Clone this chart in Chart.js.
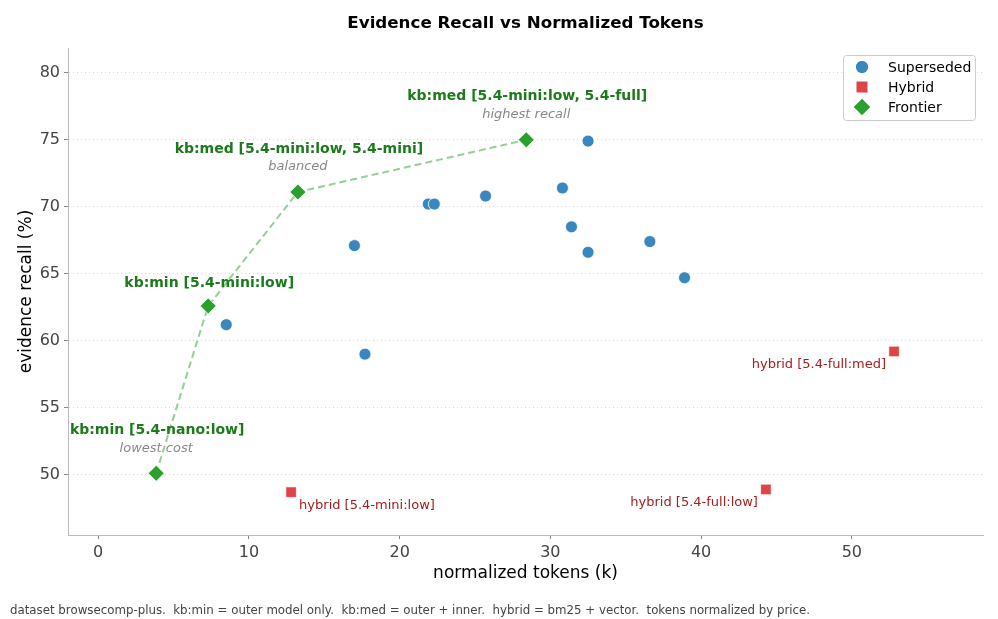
<!DOCTYPE html>
<html>
<head>
<meta charset="utf-8">
<script src="https://cdn.jsdelivr.net/npm/chart.js@4.4.1/dist/chart.umd.min.js"></script>
<style>
  html, body { margin: 0; padding: 0; background: #fff; }
  #wrap { width: 998px; height: 619px; }
</style>
</head>
<body>
<div id="wrap"><canvas id="scatter"></canvas></div>
<script>
// data
var supersededX = [8.5, 17.0, 17.7, 21.9, 22.3, 25.7, 30.8, 31.4, 32.5, 32.5, 36.6, 38.9];
var supersededY = [61.2, 67.1, 59.0, 70.2, 70.2, 70.8, 71.4, 68.5, 74.9, 66.6, 67.4, 64.7];

var hybridX = [12.8, 44.3, 52.8];
var hybridY = [48.7, 48.9, 59.2];
var hybridLabels = ['hybrid [5.4-mini:low]', 'hybrid [5.4-full:low]', 'hybrid [5.4-full:med]'];

var frontierX = [3.85, 7.3, 13.25, 28.4];
var frontierY = [50.1, 62.6, 71.1, 75.0];
var frontierLabels = ['kb:min [5.4-nano:low]', 'kb:min [5.4-mini:low]', 'kb:med [5.4-mini:low, 5.4-mini]', 'kb:med [5.4-mini:low, 5.4-full]'];
var frontierNotes = ['lowest cost', '', 'balanced', 'highest recall'];

var xTicks = [0, 10, 20, 30, 40, 50];
var yTicks = [50, 55, 60, 65, 70, 75, 80];

var footerText = 'dataset browsecomp-plus.  kb:min = outer model only.  kb:med = outer + inner.  hybrid = bm25 + vector.  tokens normalized by price.';

function toPoints(xs, ys) {
  return xs.map(function (x, i) { return { x: x, y: ys[i] }; });
}

var FONT = '"DejaVu Sans", "Liberation Sans", sans-serif';
var blue = '#3a87c0';
var red = '#dd4548';
var green = '#2ca02c';

// labels, title, legend, footer
const extras = {
  id: 'extras',
  afterDatasetsDraw: function (chart) {
    var ctx = chart.ctx;
    var xs = chart.scales.x, ys = chart.scales.y;
    ctx.save();

    // frontier labels
    ctx.textAlign = 'center';
    ctx.textBaseline = 'middle';
    frontierLabels.forEach(function (lab, i) {
      var px = xs.getPixelForValue(frontierX[i]);
      var py = ys.getPixelForValue(frontierY[i]);
      ctx.font = 'bold 14px ' + FONT;
      ctx.fillStyle = '#1b7a1b';
      if (frontierNotes[i]) {
        ctx.fillText(lab, px + 1, py - 43);
        ctx.font = 'italic 13px ' + FONT;
        ctx.fillStyle = '#888';
        ctx.fillText(frontierNotes[i], px, py - 25);
      } else {
        ctx.fillText(lab, px + 1, py - 23);
      }
    });

    // hybrid labels
    ctx.font = '13px ' + FONT;
    ctx.fillStyle = '#a51d1d';
    hybridLabels.forEach(function (lab, i) {
      var px = xs.getPixelForValue(hybridX[i]);
      var py = ys.getPixelForValue(hybridY[i]);
      if (i === 0) {
        ctx.textAlign = 'left';
        ctx.fillText(lab, px + 8, py + 13);
      } else {
        ctx.textAlign = 'right';
        ctx.fillText(lab, px - 8, py + 13);
      }
    });
    ctx.restore();
  },
  afterDraw: function (chart) {
    var ctx = chart.ctx;
    var area = chart.chartArea;
    ctx.save();

    // title
    ctx.font = 'bold 16.7px ' + FONT;
    ctx.fillStyle = '#000';
    ctx.textAlign = 'center';
    ctx.textBaseline = 'middle';
    ctx.fillText('Evidence Recall vs Normalized Tokens', (area.left + area.right) / 2, 24);

    // legend box
    var bx = 843, by = 55, bw = 132, bh = 65;
    ctx.fillStyle = 'rgba(255,255,255,0.85)';
    ctx.strokeStyle = '#cccccc';
    ctx.lineWidth = 1;
    ctx.beginPath();
    ctx.roundRect(bx + 0.5, by + 0.5, bw, bh, 3);
    ctx.fill();
    ctx.stroke();

    var rows = [
      { text: 'Superseded', style: 'circle', color: blue, r: 6 },
      { text: 'Hybrid', style: 'rect', color: red, r: 7.5 },
      { text: 'Frontier', style: 'rectRot', color: green, r: 8 }
    ];
    ctx.font = '14px ' + FONT;
    ctx.textAlign = 'left';
    rows.forEach(function (row, i) {
      var cy = by + 12 + i * 20;
      ctx.fillStyle = row.color;
      ctx.strokeStyle = row.color;
      Chart.helpers.drawPoint(ctx, { pointStyle: row.style, radius: row.r, borderWidth: 0 }, 862, cy);
      ctx.fill();
      ctx.fillStyle = '#000';
      ctx.fillText(row.text, 888, cy + 1);
    });

    // footer
    ctx.font = '11.8px ' + FONT;
    ctx.fillStyle = '#444';
    ctx.textAlign = 'left';
    ctx.fillText(footerText, 10, 611);
    ctx.restore();
  }
};

const scatterChart = new Chart(document.getElementById('scatter'), {
  type: 'scatter',
  data: {
    datasets: [{
      label: 'Superseded',
      data: toPoints(supersededX, supersededY),
      pointStyle: 'circle',
      pointRadius: 6,
      pointHoverRadius: 6,
      backgroundColor: blue,
      borderColor: '#ffffff',
      borderWidth: 0.8
    }, {
      label: 'Hybrid',
      data: toPoints(hybridX, hybridY),
      pointStyle: 'rect',
      pointRadius: 7.5,
      pointHoverRadius: 7.5,
      backgroundColor: red,
      borderColor: '#ffffff',
      borderWidth: 0.8
    }, {
      label: 'Frontier',
      data: toPoints(frontierX, frontierY),
      showLine: true,
      borderColor: '#94d094',
      borderWidth: 2,
      borderDash: [7, 4],
      pointStyle: 'rectRot',
      pointRadius: 8,
      pointHoverRadius: 8,
      pointBackgroundColor: green,
      pointBorderColor: '#ffffff',
      pointBorderWidth: 0.8
    }]
  },
  options: {
    responsive: true,
    maintainAspectRatio: false,
    animation: false,
    layout: { padding: { top: 48, right: 15, left: 0, bottom: 35 } },
    plugins: {
      legend: { display: false },
      title: { display: false },
      tooltip: { enabled: false }
    },
    scales: {
      x: {
        type: 'linear',
        min: -2,
        max: 58.7,
        afterFit: function (scale) { scale.height = 49; },
        afterBuildTicks: function (scale) {
          scale.ticks = xTicks.map(function (v) { return { value: v }; });
        },
        border: { display: true, color: '#bbbbbb', width: 1 },
        grid: { drawOnChartArea: false, drawTicks: true, tickLength: 4, tickColor: '#888' },
        ticks: { color: '#444', font: { family: FONT, size: 16 }, padding: 4, maxRotation: 0 },
        title: { display: true, text: 'normalized tokens (k)', color: '#000', font: { family: FONT, size: 17 }, padding: 0 }
      },
      y: {
        type: 'linear',
        min: 45.5,
        max: 81.85,
        afterFit: function (scale) { scale.width = 68; },
        afterBuildTicks: function (scale) {
          scale.ticks = yTicks.map(function (v) { return { value: v }; });
        },
        border: { display: true, color: '#bbbbbb', width: 1, dash: [1, 3] },
        grid: {
          color: '#d8d8d8',
          lineWidth: 1,
          tickBorderDash: [],
          tickLength: 4,
          tickColor: '#888'
        },
        ticks: { color: '#444', font: { family: FONT, size: 16 }, padding: 4 },
        title: { display: true, text: 'evidence recall (%)', color: '#000', font: { family: FONT, size: 17 }, padding: { top: 16, bottom: 0 } }
      }
    }
  },
  plugins: [extras]
});
</script>
</body>
</html>
